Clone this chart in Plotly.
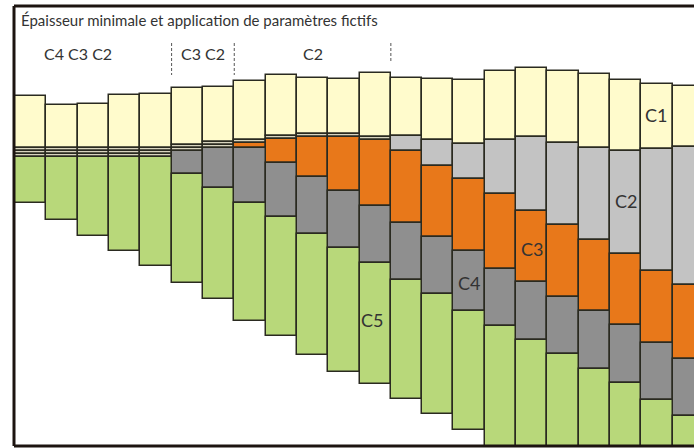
import plotly.graph_objects as go

# colonnes (profils) de gauche a droite
columns = list(range(22))

# profondeurs : haut de C1 puis base de chaque couche
surface = [96, 104.5, 103.5, 95, 93.5, 87.5, 86.5, 81, 74.5, 78, 78.5, 72.5,
           77.5, 79, 80, 70.5, 67.5, 70.5, 74, 80, 83.5, 85.5]
base_c1 = [147.5, 147.5, 147.5, 147.5, 147.5, 144.5, 141.5, 139.5, 136, 133.5, 133.5,
           136.5, 136, 139.5, 143.5, 139.5, 136.5, 142.5, 147.5, 150.5, 148.5, 146.5]
base_c2 = [150.5, 150.5, 150.5, 150.5, 150.5, 147.5, 144.5, 142.5, 139, 136.5, 136.5,
           139.5, 151, 165.5, 179, 194, 210.5, 224.5, 239.5, 253.5, 271, 284.5]
base_c3 = [153.5, 153.5, 153.5, 153.5, 153.5, 150.5, 147.5, 147.5, 162.5, 176.5, 190.5,
           205.5, 222.5, 236.5, 251, 268.5, 281.5, 296.5, 311, 325, 342.5, 359]
base_c4 = [156.5, 156.5, 156.5, 156.5, 156.5, 173.5, 187.5, 202.5, 216.5, 233.5, 247.5,
           262.5, 279.5, 294, 310.5, 325.5, 339.5, 354, 368.5, 382.5, 399.5, 416]
base_c5 = [202.5, 220, 235.5, 251, 266, 282.5, 298.5, 321, 336, 354.5, 372,
           383.5, 399, 413.5, 430, 447, 462, 478, 494, 510, 526, 542]

layers = ["C1", "C2", "C3", "C4", "C5"]
layer_colors = ["#fffbcc", "#c3c3c3", "#e8781a", "#8f8f8f", "#b8d87a"]
min_color = "#d9d5bf"  # couche d'epaisseur minimale (fictive)
min_thick = 3.5

# groupes de colonnes ou des couches sont fictives
groups = ["C4 C3 C2", "C3 C2", "C2"]
group_last = [4, 6, 11]
group_label_x = [1.5, 5.5, 9]
dash_bottom = [75, 75, 63]

# positions des etiquettes de couche
label_x = [19.95, 19, 16, 14, 10.9]
label_y = [115, 201, 249, 283, 320]

font = "Century Gothic, Lato, sans-serif"
edge = "#2a2a20"

tops = [surface, base_c1, base_c2, base_c3, base_c4]
bottoms = [base_c1, base_c2, base_c3, base_c4, base_c5]

fig = go.Figure()
for i, name in enumerate(layers):
    thick = [b - t for t, b in zip(tops[i], bottoms[i])]
    cols = [min_color if (i > 0 and th <= min_thick) else layer_colors[i] for th in thick]
    fig.add_trace(go.Bar(x=columns, y=thick, base=tops[i], width=1, name=name,
                         marker=dict(color=cols, line=dict(color=edge, width=1.5)),
                         hoverinfo="skip"))

for g, last, lx, yb in zip(groups, group_last, group_label_x, dash_bottom):
    fig.add_trace(go.Scatter(x=[last + 0.5, last + 0.5], y=[43, yb], mode="lines",
                             line=dict(color="#555555", width=1, dash="3px,2px"),
                             hoverinfo="skip"))
    fig.add_annotation(x=lx, y=53, text=g, showarrow=False,
                       font=dict(family=font, size=16, color="#333333"))

for name, x, y in zip(layers, label_x, label_y):
    fig.add_annotation(x=x, y=y, text=name, showarrow=False,
                       font=dict(family=font, size=18, color="#333333"))

fig.add_annotation(xref="paper", x=0.007, y=20, xanchor="left",
                   text="Épaisseur minimale et application de paramètres fictifs",
                   showarrow=False, font=dict(family=font, size=15, color="#333333"))

# cadre (gauche, haut, bas)
frame = dict(color="#1c1410", width=3)
fig.add_shape(type="line", xref="paper", yref="paper", x0=0, x1=0, y0=0, y1=1, line=frame, layer="above")
fig.add_shape(type="line", xref="paper", yref="paper", x0=0, x1=1, y0=1, y1=1, line=frame, layer="above")
fig.add_shape(type="line", xref="paper", yref="paper", x0=0, x1=1, y0=0, y1=0, line=frame, layer="above")

fig.update_layout(
    width=694, height=448,
    margin=dict(l=14, r=0, t=6, b=2),
    barmode="overlay", bargap=0,
    showlegend=False,
    plot_bgcolor="white", paper_bgcolor="white",
    xaxis=dict(range=[-0.532, 21.179], visible=False, fixedrange=True),
    yaxis=dict(range=[446, 6], visible=False, fixedrange=True),
)

fig.write_html("out.html", config={"displayModeBar": False},
               post_script="document.body.style.margin='0';")
